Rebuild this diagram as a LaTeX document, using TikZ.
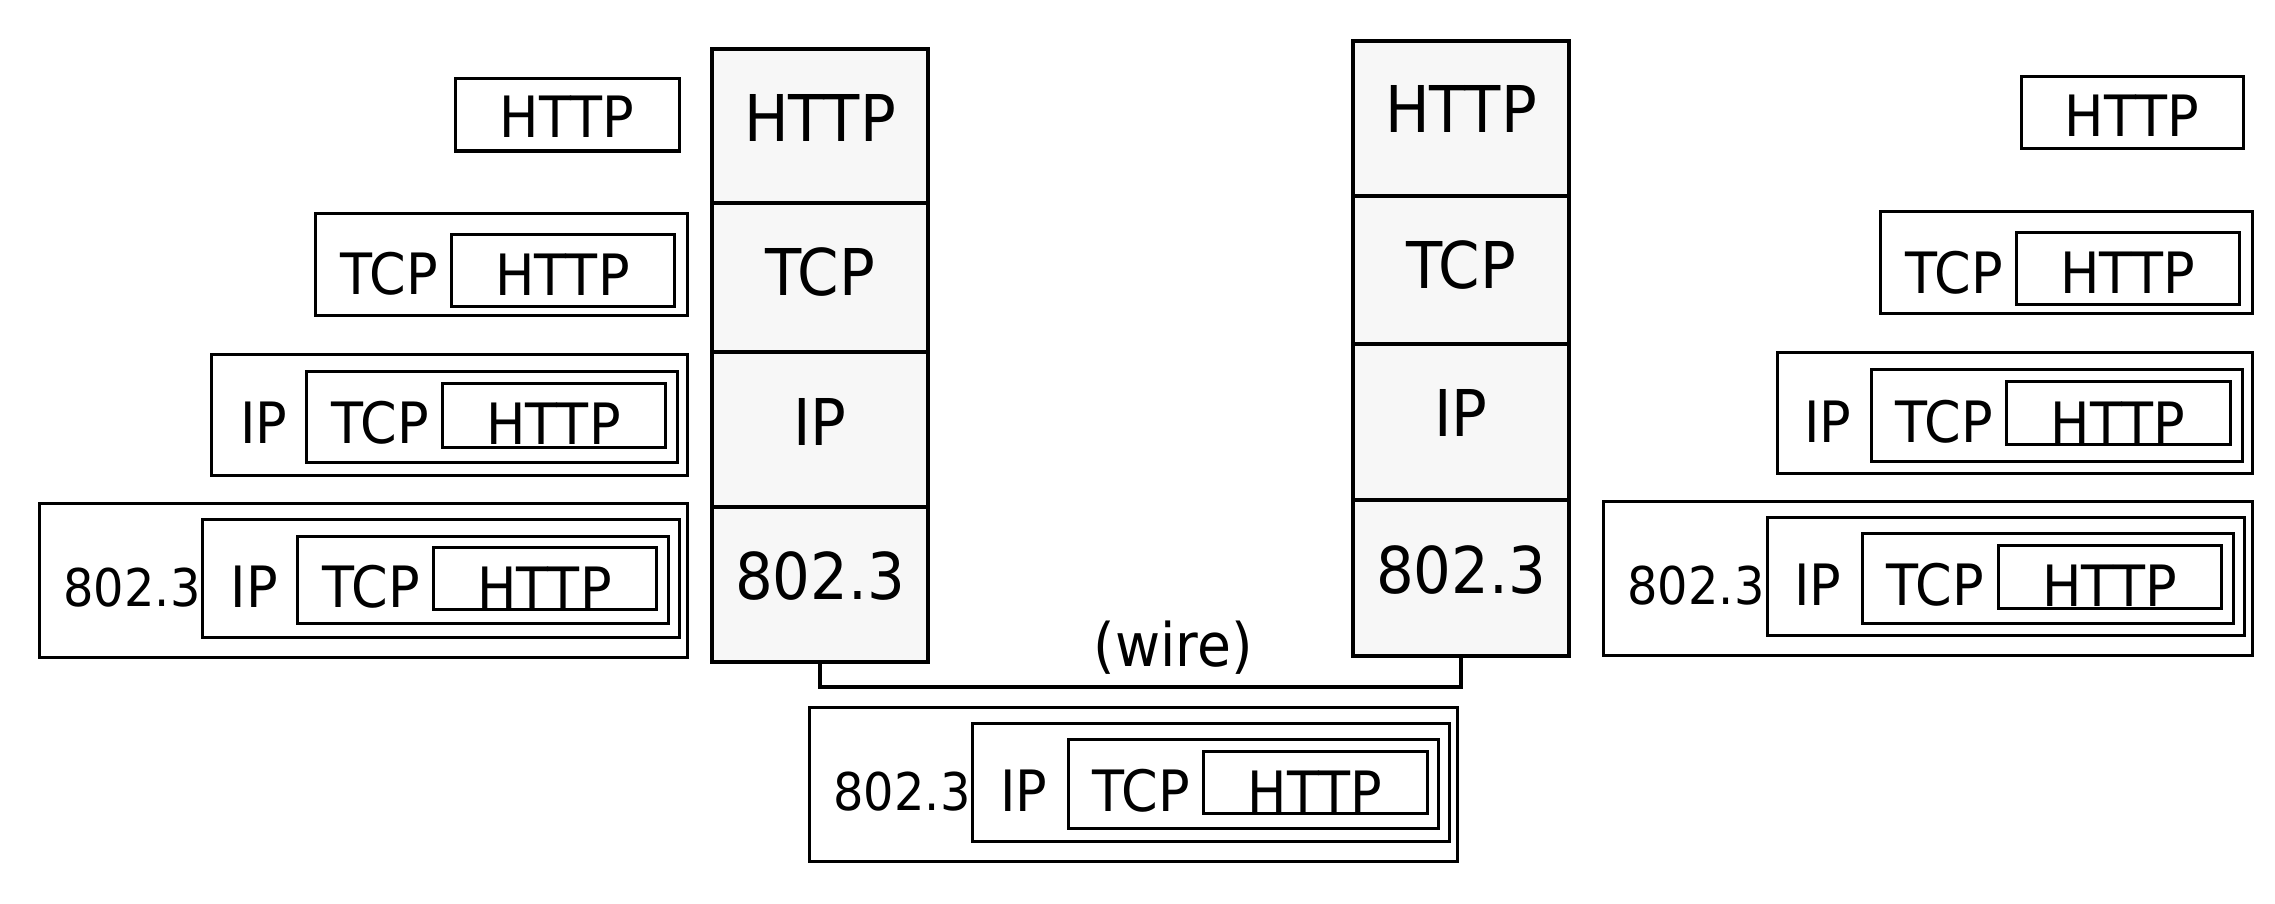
\documentclass[tikz,border=0pt]{standalone}
\usepackage{fontspec}
\setmainfont{DejaVu Sans}[FakeStretch=0.92]
\usetikzlibrary{fit}
\definecolor{stackfill}{RGB}{247,247,247}
\newcommand\fbigtxt{\fontsize{32.25pt}{36pt}\selectfont}
\newcommand\fsmalltxt{\fontsize{28.5pt}{32pt}\selectfont}
\newcommand\fnumtxt{\fontsize{26pt}{30pt}\selectfont}
\newcommand\fwiretxt{\fontsize{30pt}{34pt}\selectfont}
\tikzset{
  pkt/.style={draw=black, line width=1.5pt, inner sep=0pt, outer sep=0pt},
  cell/.style={pkt, line width=1.6pt, fill=stackfill},
  big/.style={anchor=base, inner sep=0pt, font=\fbigtxt},
  sml/.style={anchor=base, inner sep=0pt, font=\fsmalltxt},
  num/.style={anchor=base, inner sep=0pt, font=\fnumtxt},
  wirelbl/.style={anchor=base, inner sep=0pt, font=\fwiretxt},
  wireline/.style={draw=black, line width=2.1pt}
}
\begin{document}
\begin{tikzpicture}[x=0.5pt,y=-0.5pt]
\useasboundingbox (0,0) rectangle (2275,904);

% ---------- left stack ----------
\node[cell, fit={(712,49) (928,203)}] (ls1) {};
\node[cell, fit={(712,203) (928,352)}] (ls2) {};
\node[cell, fit={(712,352) (928,507)}] (ls3) {};
\node[cell, fit={(712,507) (928,662)}] (ls4) {};
\node[big] (ls1t) at (820,141) {HTTP};
\node[big] (ls2t) at (820,295) {TCP};
\node[big] (ls3t) at (820,445) {IP};
\node[big] (ls4t) at (820,599) {802.3};

% ---------- right stack ----------
\node[cell, fit={(1353,41) (1569,196)}] (rs1) {};
\node[cell, fit={(1353,196) (1569,344)}] (rs2) {};
\node[cell, fit={(1353,344) (1569,500)}] (rs3) {};
\node[cell, fit={(1353,500) (1569,656)}] (rs4) {};
\node[big] (rs1t) at (1461,133) {HTTP};
\node[big] (rs2t) at (1461,288) {TCP};
\node[big] (rs3t) at (1461,436) {IP};
\node[big] (rs4t) at (1461,593) {802.3};

% ---------- wire ----------
\draw[wireline] (ls4.south) -- ++(0,25) -| (rs4.south);
\node[wirelbl] (wirelabel) at (1173,666) {(wire)};

% ---------- left packets ----------
\node[pkt, fit={(455,79) (679,151)}] (l1a) {};
\node[sml] (l1h) at (567,138) {HTTP};

\node[pkt, fit={(315,213) (687,315)}] (l2a) {};
\node[pkt, fit={(451,234) (674,306)}] (l2b) {};
\node[sml] (l2t) at (389,294) {TCP};
\node[sml] (l2h) at (562.5,295) {HTTP};

\node[pkt, fit={(211,354) (687,475)}] (l3a) {};
\node[pkt, fit={(306,371) (677,462)}] (l3b) {};
\node[pkt, fit={(442,383) (665,447)}] (l3c) {};
\node[sml] (l3i) at (264,443) {IP};
\node[sml] (l3t) at (380.5,443) {TCP};
\node[sml] (l3h) at (553.5,444) {HTTP};

\node[pkt, fit={(39,503) (687,657)}] (l4a) {};
\node[pkt, fit={(202,519) (679,637)}] (l4b) {};
\node[pkt, fit={(297,536) (668,623)}] (l4c) {};
\node[pkt, fit={(433,547) (656,609)}] (l4d) {};
\node[num] (l4n) at (132,606) {802.3};
\node[sml] (l4i) at (254.5,607) {IP};
\node[sml] (l4t) at (371.5,607) {TCP};
\node[sml] (l4h) at (544.5,608) {HTTP};

% ---------- right packets ----------
\node[pkt, fit={(2021,77) (2243,149)}] (r1a) {};
\node[sml] (r1h) at (2132,137) {HTTP};

\node[pkt, fit={(1880,211) (2252,313)}] (r2a) {};
\node[pkt, fit={(2016,232) (2239,304)}] (r2b) {};
\node[sml] (r2t) at (1954.5,293) {TCP};
\node[sml] (r2h) at (2127.5,293) {HTTP};

\node[pkt, fit={(1777,352) (2252,473)}] (r3a) {};
\node[pkt, fit={(1871,369) (2242,461)}] (r3b) {};
\node[pkt, fit={(2006,381) (2230,444)}] (r3c) {};
\node[sml] (r3i) at (1828,442) {IP};
\node[sml] (r3t) at (1944,442) {TCP};
\node[sml] (r3h) at (2118,443) {HTTP};

\node[pkt, fit={(1603,501) (2252,655)}] (r4a) {};
\node[pkt, fit={(1767,517) (2244,635)}] (r4b) {};
\node[pkt, fit={(1862,533) (2233,623)}] (r4c) {};
\node[pkt, fit={(1998,545) (2221,608)}] (r4d) {};
\node[num] (r4n) at (1696,604) {802.3};
\node[sml] (r4i) at (1818,605) {IP};
\node[sml] (r4t) at (1935.5,605) {TCP};
\node[sml] (r4h) at (2109.5,606) {HTTP};

% ---------- packet on the wire ----------
\node[pkt, fit={(809,707) (1457,861)}] (wa) {};
\node[pkt, fit={(972,723) (1449,841)}] (wb) {};
\node[pkt, fit={(1068,739) (1438,828)}] (wc) {};
\node[pkt, fit={(1203,751) (1427,813)}] (wd) {};
\node[num] (wn) at (902,810) {802.3};
\node[sml] (wi) at (1024,811) {IP};
\node[sml] (wt) at (1141.5,811) {TCP};
\node[sml] (wh) at (1315,812) {HTTP};
\end{tikzpicture}
\end{document}
